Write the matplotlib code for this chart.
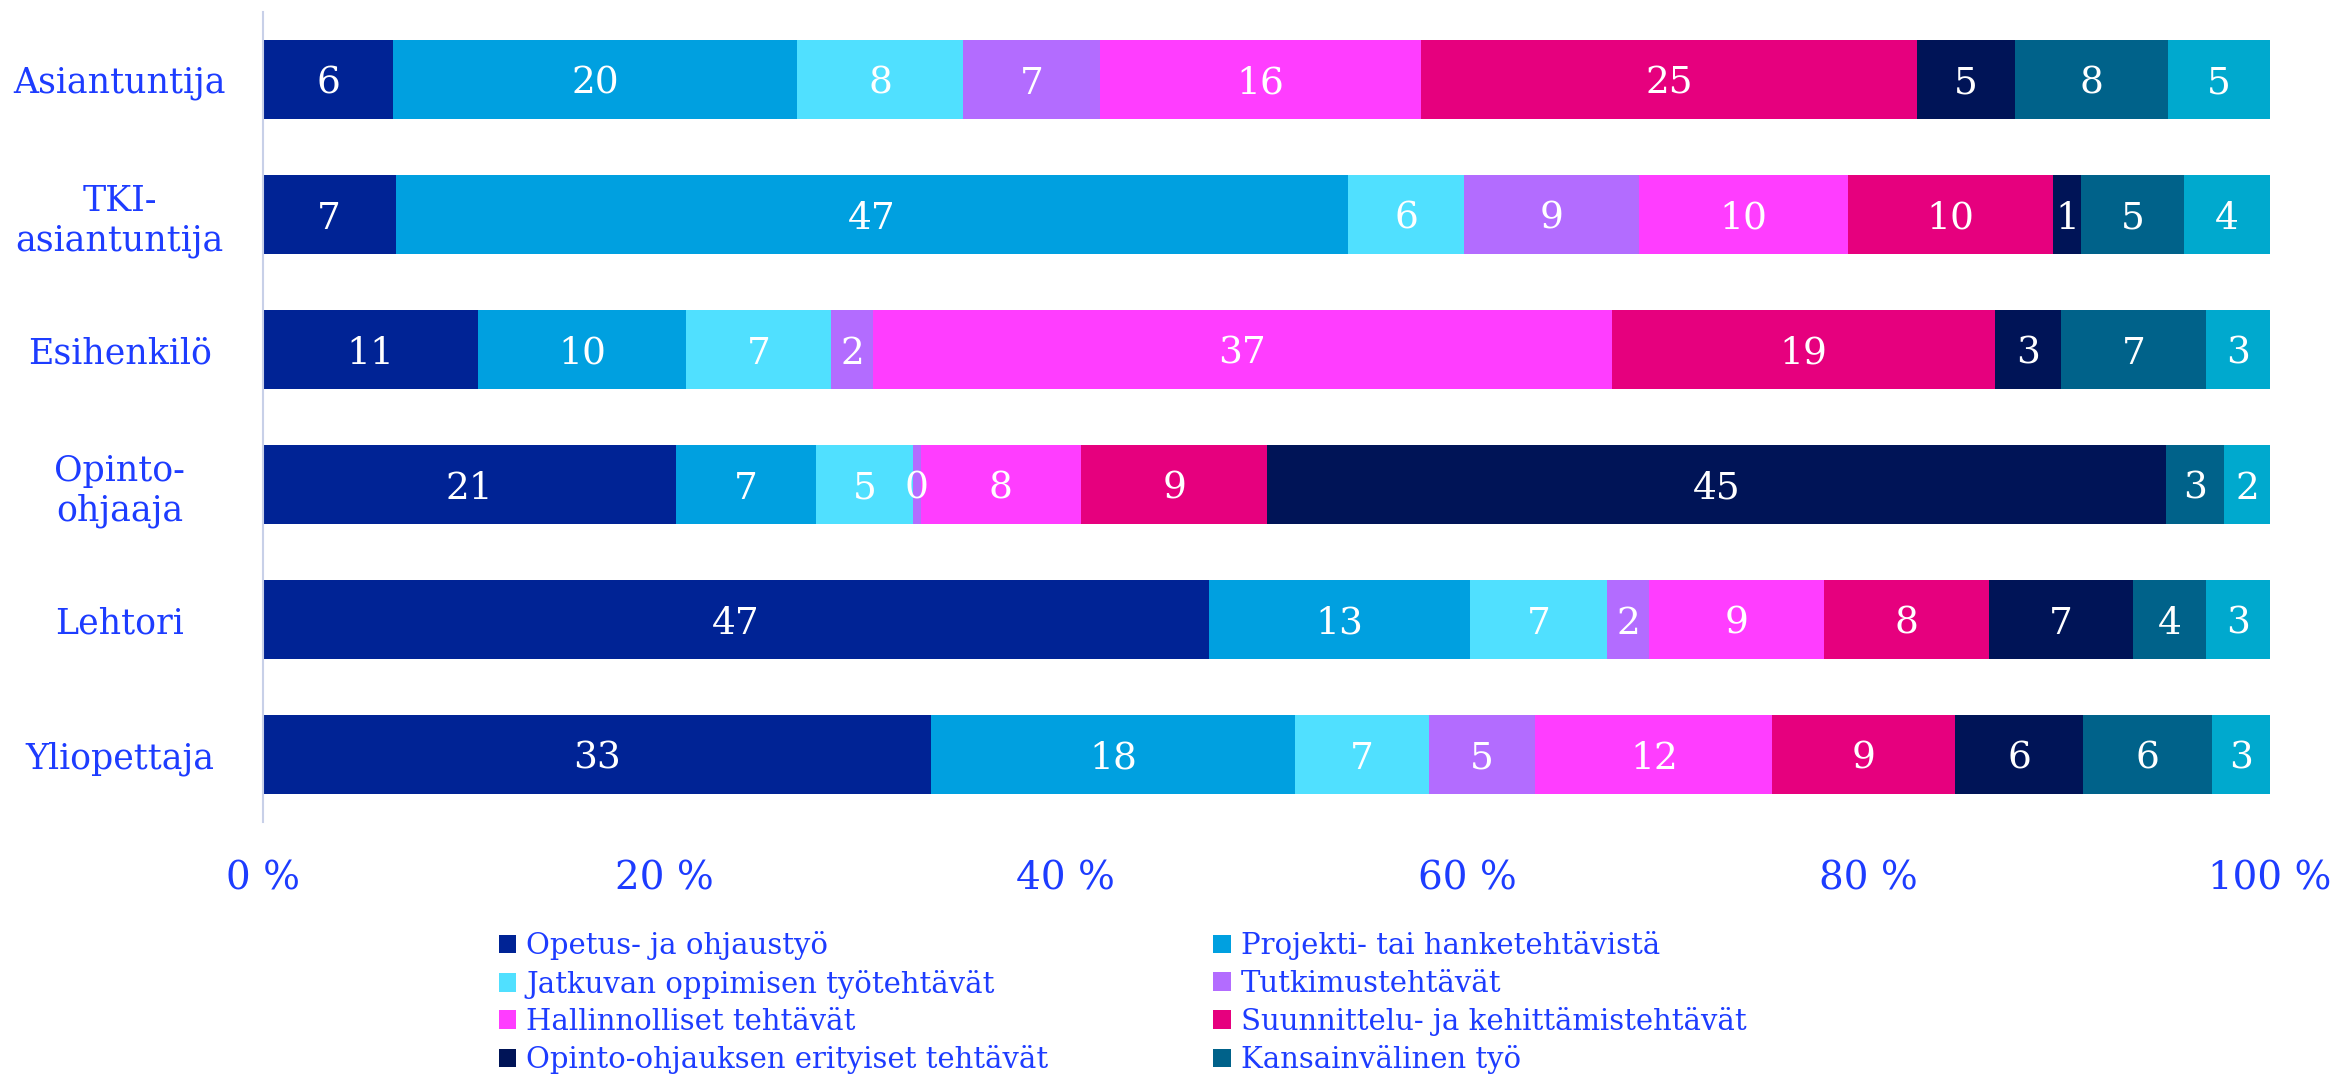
import numpy as np
import matplotlib.pyplot as plt

# Rivit (ylhäältä alas)
roolit = ["Asiantuntija", "TKI-\nasiantuntija", "Esihenkilö", "Opinto-\nohjaaja", "Lehtori", "Yliopettaja"]

sarjat = [
    "Opetus- ja ohjaustyö",
    "Projekti- tai hanketehtävistä",
    "Jatkuvan oppimisen työtehtävät",
    "Tutkimustehtävät",
    "Hallinnolliset tehtävät",
    "Suunnittelu- ja kehittämistehtävät",
    "Opinto-ohjauksen erityiset tehtävät",
    "Kansainvälinen työ",
    "Muut tehtävät",
]

# osuudet (%) luettu kuvasta, sarakkeet sarjojen järjestyksessä
asiantuntija = [6.5, 20.1, 8.3, 6.8, 16.0, 24.7, 4.9, 7.6, 5.1]
tki = [6.6, 47.4, 5.8, 8.7, 10.4, 10.2, 1.4, 5.1, 4.3]
esihenkilo = [10.7, 10.4, 7.2, 2.1, 36.8, 19.1, 3.3, 7.2, 3.2]
opo = [20.6, 7.0, 4.8, 0.4, 8.0, 9.3, 44.8, 2.9, 2.3]
lehtori = [47.1, 13.0, 6.8, 2.1, 8.7, 8.2, 7.2, 3.6, 3.2]
yliopettaja = [33.3, 18.1, 6.7, 5.3, 11.8, 9.1, 6.4, 6.4, 2.9]

varit = ["#002395", "#00a0e0", "#50e0ff", "#b36cff", "#ff3dff",
         "#e6007e", "#001457", "#00628a", "#00a9ce"]

sininen = "#1d3cff"
plt.rcParams['font.family'] = ['DejaVu Serif']

data = np.array([asiantuntija, tki, esihenkilo, opo, lehtori, yliopettaja])
data = data / data.sum(axis=1, keepdims=True) * 100

fig = plt.figure(figsize=(23.39, 10.74), dpi=100)
ax = fig.add_axes([0.1124, 0.2346, 0.8581, 0.7542])

y = np.arange(len(roolit))
vasen = np.zeros(len(roolit))
palkit = []
for i, nimi in enumerate(sarjat):
    b = ax.barh(y, data[:, i], left=vasen, height=0.58, color=varit[i], label=nimi)
    palkit.append(b)
    for j in range(len(roolit)):
        ax.text(vasen[j] + data[j, i] / 2, y[j] + 0.03, f"{data[j, i]:.0f}",
                ha='center', va='center', color='white', fontsize=27)
    vasen += data[:, i]

ax.set_xlim(0, 100)
ax.set_ylim(5.5, -0.5)
ax.set_xticks(np.arange(0, 101, 20))
ax.set_xticklabels([f"{v} %" for v in range(0, 101, 20)])
ax.set_yticks(y)
ax.set_yticklabels(roolit)
ax.tick_params(axis='x', length=0, pad=28, labelsize=28, labelcolor=sininen)
ax.tick_params(axis='y', length=0, pad=103, labelsize=25, labelcolor=sininen)
for t in ax.get_yticklabels():
    t.set_ha('center')
    t.set_multialignment('center')

for s in ['top', 'right', 'bottom']:
    ax.spines[s].set_visible(False)
ax.spines['left'].set_color('#c8d0e8')
ax.spines['left'].set_linewidth(1.5)

# legenda riveittäin, 9. rivi jää kuvan ulkopuolelle kuten alkuperäisessä
jarj = [0, 2, 4, 6, 1, 3, 5, 7]
fig.legend([palkit[k] for k in jarj], [sarjat[k] for k in jarj],
           loc='upper left', bbox_to_anchor=(0.207, 0.1465), ncol=2,
           frameon=False, fontsize=21, labelcolor=sininen,
           handlelength=0.6, handleheight=0.6, handletextpad=0.35,
           labelspacing=0.32, columnspacing=5.65, borderpad=0)

fig.savefig("out.png", dpi=100)
